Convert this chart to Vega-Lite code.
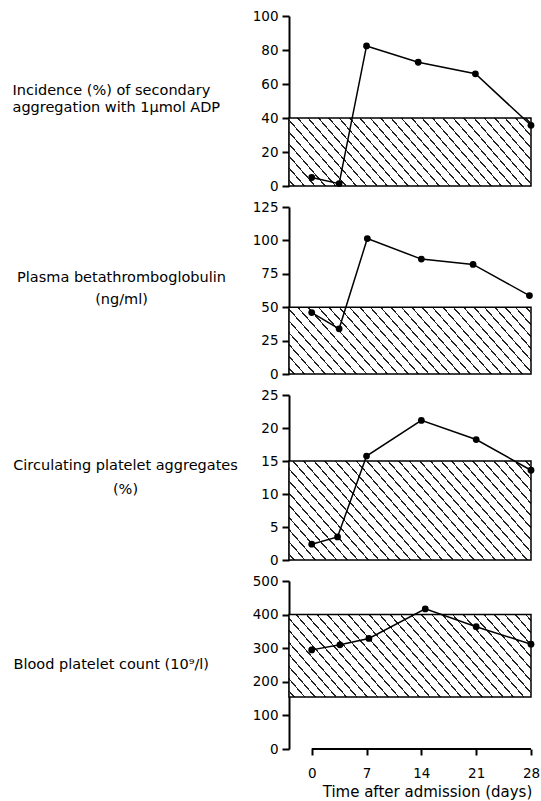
{
  "$schema": "https://vega.github.io/schema/vega-lite/v6.json",
  "background": "white",
  "padding": {"left": 12, "top": 9, "right": 0, "bottom": 2},
  "bounds": "flush",
  "spacing": 21,
  "config": {
    "view": {"stroke": null},
    "font": "DejaVu Sans",
    "axis": {
      "domainColor": "black", "domainWidth": 2, "tickColor": "black", "tickWidth": 2,
      "labelColor": "black", "labelFont": "DejaVu Sans", "labelFontSize": 13.5,
      "titleColor": "black", "titleFont": "DejaVu Sans", "titleFontSize": 14.5, "titleFontWeight": "normal",
      "grid": false, "labelFlush": false, "labelOverlap": false
    }
  },
  "datasets": {
    "incidence": [
      {"day": 0, "value": 5}, {"day": 3.5, "value": 1.4}, {"day": 7, "value": 82.4},
      {"day": 13.6, "value": 72.8}, {"day": 20.9, "value": 66}, {"day": 28, "value": 35.7}
    ],
    "btg": [
      {"day": 0, "value": 46}, {"day": 3.5, "value": 33.8}, {"day": 7.1, "value": 101.4},
      {"day": 14, "value": 86}, {"day": 20.6, "value": 82}, {"day": 27.8, "value": 58.7}
    ],
    "aggregates": [
      {"day": 0, "value": 2.4}, {"day": 3.3, "value": 3.5}, {"day": 7, "value": 15.75},
      {"day": 14, "value": 21.15}, {"day": 21, "value": 18.25}, {"day": 28, "value": 13.6}
    ],
    "count": [
      {"day": 0, "value": 295}, {"day": 3.6, "value": 310}, {"day": 7.3, "value": 329},
      {"day": 14.5, "value": 417}, {"day": 21, "value": 364}, {"day": 28, "value": 312}
    ]
  },
  "vconcat": [
    {
      "width": 242, "height": 170,
      "encoding": {
        "y": {"field": "value", "type": "quantitative", "scale": {"domain": [0, 100]},
          "axis": {"values": [0, 20, 40, 60, 80, 100], "tickSize": 7, "labelPadding": 4,
            "title": ["Incidence (%) of secondary", "aggregation with 1µmol ADP"],
            "titleAngle": 0, "titleAlign": "left", "titleBaseline": "alphabetic",
            "titleX": -277, "titleY": 78, "titleLineHeight": 17}}
      },
      "layer": [
        {
          "data": {"values": [{"value": 0, "hi": 40}]},
          "mark": {"type": "rect", "stroke": "black", "strokeWidth": 1.5,
            "fill": {"gradient": "linear", "x1": 0, "y1": 1, "x2": 1.1735, "y2": 0.7154, "stops": [
{"offset":0.0146,"color":"#fff"},{"offset":0.0146,"color":"#222"},{"offset":0.0199,"color":"#222"},{"offset":0.0199,"color":"#fff"},
{"offset":0.0491,"color":"#fff"},{"offset":0.0491,"color":"#222"},{"offset":0.0543,"color":"#222"},{"offset":0.0543,"color":"#fff"},
{"offset":0.0836,"color":"#fff"},{"offset":0.0836,"color":"#222"},{"offset":0.0888,"color":"#222"},{"offset":0.0888,"color":"#fff"},
{"offset":0.1181,"color":"#fff"},{"offset":0.1181,"color":"#222"},{"offset":0.1233,"color":"#222"},{"offset":0.1233,"color":"#fff"},
{"offset":0.1526,"color":"#fff"},{"offset":0.1526,"color":"#222"},{"offset":0.1578,"color":"#222"},{"offset":0.1578,"color":"#fff"},
{"offset":0.1871,"color":"#fff"},{"offset":0.1871,"color":"#222"},{"offset":0.1923,"color":"#222"},{"offset":0.1923,"color":"#fff"},
{"offset":0.2215,"color":"#fff"},{"offset":0.2215,"color":"#222"},{"offset":0.2267,"color":"#222"},{"offset":0.2267,"color":"#fff"},
{"offset":0.2560,"color":"#fff"},{"offset":0.2560,"color":"#222"},{"offset":0.2612,"color":"#222"},{"offset":0.2612,"color":"#fff"},
{"offset":0.2905,"color":"#fff"},{"offset":0.2905,"color":"#222"},{"offset":0.2957,"color":"#222"},{"offset":0.2957,"color":"#fff"},
{"offset":0.3250,"color":"#fff"},{"offset":0.3250,"color":"#222"},{"offset":0.3302,"color":"#222"},{"offset":0.3302,"color":"#fff"},
{"offset":0.3595,"color":"#fff"},{"offset":0.3595,"color":"#222"},{"offset":0.3647,"color":"#222"},{"offset":0.3647,"color":"#fff"},
{"offset":0.3940,"color":"#fff"},{"offset":0.3940,"color":"#222"},{"offset":0.3992,"color":"#222"},{"offset":0.3992,"color":"#fff"},
{"offset":0.4284,"color":"#fff"},{"offset":0.4284,"color":"#222"},{"offset":0.4336,"color":"#222"},{"offset":0.4336,"color":"#fff"},
{"offset":0.4629,"color":"#fff"},{"offset":0.4629,"color":"#222"},{"offset":0.4681,"color":"#222"},{"offset":0.4681,"color":"#fff"},
{"offset":0.4974,"color":"#fff"},{"offset":0.4974,"color":"#222"},{"offset":0.5026,"color":"#222"},{"offset":0.5026,"color":"#fff"},
{"offset":0.5319,"color":"#fff"},{"offset":0.5319,"color":"#222"},{"offset":0.5371,"color":"#222"},{"offset":0.5371,"color":"#fff"},
{"offset":0.5664,"color":"#fff"},{"offset":0.5664,"color":"#222"},{"offset":0.5716,"color":"#222"},{"offset":0.5716,"color":"#fff"},
{"offset":0.6009,"color":"#fff"},{"offset":0.6009,"color":"#222"},{"offset":0.6061,"color":"#222"},{"offset":0.6061,"color":"#fff"},
{"offset":0.6353,"color":"#fff"},{"offset":0.6353,"color":"#222"},{"offset":0.6405,"color":"#222"},{"offset":0.6405,"color":"#fff"},
{"offset":0.6698,"color":"#fff"},{"offset":0.6698,"color":"#222"},{"offset":0.6750,"color":"#222"},{"offset":0.6750,"color":"#fff"},
{"offset":0.7043,"color":"#fff"},{"offset":0.7043,"color":"#222"},{"offset":0.7095,"color":"#222"},{"offset":0.7095,"color":"#fff"},
{"offset":0.7388,"color":"#fff"},{"offset":0.7388,"color":"#222"},{"offset":0.7440,"color":"#222"},{"offset":0.7440,"color":"#fff"},
{"offset":0.7733,"color":"#fff"},{"offset":0.7733,"color":"#222"},{"offset":0.7785,"color":"#222"},{"offset":0.7785,"color":"#fff"},
{"offset":0.8078,"color":"#fff"},{"offset":0.8078,"color":"#222"},{"offset":0.8130,"color":"#222"},{"offset":0.8130,"color":"#fff"},
{"offset":0.8422,"color":"#fff"},{"offset":0.8422,"color":"#222"},{"offset":0.8474,"color":"#222"},{"offset":0.8474,"color":"#fff"},
{"offset":0.8767,"color":"#fff"},{"offset":0.8767,"color":"#222"},{"offset":0.8819,"color":"#222"},{"offset":0.8819,"color":"#fff"},
{"offset":0.9112,"color":"#fff"},{"offset":0.9112,"color":"#222"},{"offset":0.9164,"color":"#222"},{"offset":0.9164,"color":"#fff"},
{"offset":0.9457,"color":"#fff"},{"offset":0.9457,"color":"#222"},{"offset":0.9509,"color":"#222"},{"offset":0.9509,"color":"#fff"},
{"offset":0.9802,"color":"#fff"},{"offset":0.9802,"color":"#222"},{"offset":0.9854,"color":"#222"},{"offset":0.9854,"color":"#fff"}
            ]}},
          "encoding": {
            "x": {"datum": -2.9, "type": "quantitative", "scale": {"domain": [-2.9, 28]}, "axis": null},
            "x2": {"datum": 28},
            "y2": {"field": "hi"}
          }
        },
        {"data": {"name": "incidence"}, "mark": {"type": "line", "color": "black", "strokeWidth": 1.5},
          "encoding": {"x": {"field": "day", "type": "quantitative", "scale": {"domain": [-2.9, 28]}, "axis": null}}},
        {"data": {"name": "incidence"}, "mark": {"type": "point", "filled": true, "color": "black", "size": 46, "opacity": 1},
          "encoding": {"x": {"field": "day", "type": "quantitative", "scale": {"domain": [-2.9, 28]}, "axis": null}}}
      ]
    },
    {
      "width": 242, "height": 167,
      "encoding": {
        "y": {"field": "value", "type": "quantitative", "scale": {"domain": [0, 125]},
          "axis": {"values": [0, 25, 50, 75, 100, 125], "tickSize": 7, "labelPadding": 4,
            "title": ["Plasma betathromboglobulin", "(ng/ml)"],
            "titleAngle": 0, "titleAlign": "center", "titleBaseline": "alphabetic",
            "titleX": -168, "titleY": 74, "titleLineHeight": 22}}
      },
      "layer": [
        {
          "data": {"values": [{"value": 0, "hi": 50}]},
          "mark": {"type": "rect", "stroke": "black", "strokeWidth": 1.5,
            "fill": {"gradient": "linear", "x1": 0, "y1": 1, "x2": 1.1735, "y2": 0.7154, "stops": [
{"offset":0.0146,"color":"#fff"},{"offset":0.0146,"color":"#222"},{"offset":0.0199,"color":"#222"},{"offset":0.0199,"color":"#fff"},
{"offset":0.0491,"color":"#fff"},{"offset":0.0491,"color":"#222"},{"offset":0.0543,"color":"#222"},{"offset":0.0543,"color":"#fff"},
{"offset":0.0836,"color":"#fff"},{"offset":0.0836,"color":"#222"},{"offset":0.0888,"color":"#222"},{"offset":0.0888,"color":"#fff"},
{"offset":0.1181,"color":"#fff"},{"offset":0.1181,"color":"#222"},{"offset":0.1233,"color":"#222"},{"offset":0.1233,"color":"#fff"},
{"offset":0.1526,"color":"#fff"},{"offset":0.1526,"color":"#222"},{"offset":0.1578,"color":"#222"},{"offset":0.1578,"color":"#fff"},
{"offset":0.1871,"color":"#fff"},{"offset":0.1871,"color":"#222"},{"offset":0.1923,"color":"#222"},{"offset":0.1923,"color":"#fff"},
{"offset":0.2215,"color":"#fff"},{"offset":0.2215,"color":"#222"},{"offset":0.2267,"color":"#222"},{"offset":0.2267,"color":"#fff"},
{"offset":0.2560,"color":"#fff"},{"offset":0.2560,"color":"#222"},{"offset":0.2612,"color":"#222"},{"offset":0.2612,"color":"#fff"},
{"offset":0.2905,"color":"#fff"},{"offset":0.2905,"color":"#222"},{"offset":0.2957,"color":"#222"},{"offset":0.2957,"color":"#fff"},
{"offset":0.3250,"color":"#fff"},{"offset":0.3250,"color":"#222"},{"offset":0.3302,"color":"#222"},{"offset":0.3302,"color":"#fff"},
{"offset":0.3595,"color":"#fff"},{"offset":0.3595,"color":"#222"},{"offset":0.3647,"color":"#222"},{"offset":0.3647,"color":"#fff"},
{"offset":0.3940,"color":"#fff"},{"offset":0.3940,"color":"#222"},{"offset":0.3992,"color":"#222"},{"offset":0.3992,"color":"#fff"},
{"offset":0.4284,"color":"#fff"},{"offset":0.4284,"color":"#222"},{"offset":0.4336,"color":"#222"},{"offset":0.4336,"color":"#fff"},
{"offset":0.4629,"color":"#fff"},{"offset":0.4629,"color":"#222"},{"offset":0.4681,"color":"#222"},{"offset":0.4681,"color":"#fff"},
{"offset":0.4974,"color":"#fff"},{"offset":0.4974,"color":"#222"},{"offset":0.5026,"color":"#222"},{"offset":0.5026,"color":"#fff"},
{"offset":0.5319,"color":"#fff"},{"offset":0.5319,"color":"#222"},{"offset":0.5371,"color":"#222"},{"offset":0.5371,"color":"#fff"},
{"offset":0.5664,"color":"#fff"},{"offset":0.5664,"color":"#222"},{"offset":0.5716,"color":"#222"},{"offset":0.5716,"color":"#fff"},
{"offset":0.6009,"color":"#fff"},{"offset":0.6009,"color":"#222"},{"offset":0.6061,"color":"#222"},{"offset":0.6061,"color":"#fff"},
{"offset":0.6353,"color":"#fff"},{"offset":0.6353,"color":"#222"},{"offset":0.6405,"color":"#222"},{"offset":0.6405,"color":"#fff"},
{"offset":0.6698,"color":"#fff"},{"offset":0.6698,"color":"#222"},{"offset":0.6750,"color":"#222"},{"offset":0.6750,"color":"#fff"},
{"offset":0.7043,"color":"#fff"},{"offset":0.7043,"color":"#222"},{"offset":0.7095,"color":"#222"},{"offset":0.7095,"color":"#fff"},
{"offset":0.7388,"color":"#fff"},{"offset":0.7388,"color":"#222"},{"offset":0.7440,"color":"#222"},{"offset":0.7440,"color":"#fff"},
{"offset":0.7733,"color":"#fff"},{"offset":0.7733,"color":"#222"},{"offset":0.7785,"color":"#222"},{"offset":0.7785,"color":"#fff"},
{"offset":0.8078,"color":"#fff"},{"offset":0.8078,"color":"#222"},{"offset":0.8130,"color":"#222"},{"offset":0.8130,"color":"#fff"},
{"offset":0.8422,"color":"#fff"},{"offset":0.8422,"color":"#222"},{"offset":0.8474,"color":"#222"},{"offset":0.8474,"color":"#fff"},
{"offset":0.8767,"color":"#fff"},{"offset":0.8767,"color":"#222"},{"offset":0.8819,"color":"#222"},{"offset":0.8819,"color":"#fff"},
{"offset":0.9112,"color":"#fff"},{"offset":0.9112,"color":"#222"},{"offset":0.9164,"color":"#222"},{"offset":0.9164,"color":"#fff"},
{"offset":0.9457,"color":"#fff"},{"offset":0.9457,"color":"#222"},{"offset":0.9509,"color":"#222"},{"offset":0.9509,"color":"#fff"},
{"offset":0.9802,"color":"#fff"},{"offset":0.9802,"color":"#222"},{"offset":0.9854,"color":"#222"},{"offset":0.9854,"color":"#fff"}
            ]}},
          "encoding": {
            "x": {"datum": -2.9, "type": "quantitative", "scale": {"domain": [-2.9, 28]}, "axis": null},
            "x2": {"datum": 28},
            "y2": {"field": "hi"}
          }
        },
        {"data": {"name": "btg"}, "mark": {"type": "line", "color": "black", "strokeWidth": 1.5},
          "encoding": {"x": {"field": "day", "type": "quantitative", "scale": {"domain": [-2.9, 28]}, "axis": null}}},
        {"data": {"name": "btg"}, "mark": {"type": "point", "filled": true, "color": "black", "size": 46, "opacity": 1},
          "encoding": {"x": {"field": "day", "type": "quantitative", "scale": {"domain": [-2.9, 28]}, "axis": null}}}
      ]
    },
    {
      "width": 242, "height": 165,
      "encoding": {
        "y": {"field": "value", "type": "quantitative", "scale": {"domain": [0, 25]},
          "axis": {"values": [0, 5, 10, 15, 20, 25], "tickSize": 7, "labelPadding": 4,
            "title": ["Circulating platelet aggregates", "(%)"],
            "titleAngle": 0, "titleAlign": "center", "titleBaseline": "alphabetic",
            "titleX": -164, "titleY": 74.5, "titleLineHeight": 24}}
      },
      "layer": [
        {
          "data": {"values": [{"value": 0, "hi": 15}]},
          "mark": {"type": "rect", "stroke": "black", "strokeWidth": 1.5,
            "fill": {"gradient": "linear", "x1": 0, "y1": 1, "x2": 1.2034, "y2": 0.5719, "stops": [
{"offset":0.0137,"color":"#fff"},{"offset":0.0137,"color":"#222"},{"offset":0.0186,"color":"#222"},{"offset":0.0186,"color":"#fff"},
{"offset":0.0459,"color":"#fff"},{"offset":0.0459,"color":"#222"},{"offset":0.0508,"color":"#222"},{"offset":0.0508,"color":"#fff"},
{"offset":0.0782,"color":"#fff"},{"offset":0.0782,"color":"#222"},{"offset":0.0831,"color":"#222"},{"offset":0.0831,"color":"#fff"},
{"offset":0.1105,"color":"#fff"},{"offset":0.1105,"color":"#222"},{"offset":0.1153,"color":"#222"},{"offset":0.1153,"color":"#fff"},
{"offset":0.1427,"color":"#fff"},{"offset":0.1427,"color":"#222"},{"offset":0.1476,"color":"#222"},{"offset":0.1476,"color":"#fff"},
{"offset":0.1750,"color":"#fff"},{"offset":0.1750,"color":"#222"},{"offset":0.1799,"color":"#222"},{"offset":0.1799,"color":"#fff"},
{"offset":0.2072,"color":"#fff"},{"offset":0.2072,"color":"#222"},{"offset":0.2121,"color":"#222"},{"offset":0.2121,"color":"#fff"},
{"offset":0.2395,"color":"#fff"},{"offset":0.2395,"color":"#222"},{"offset":0.2444,"color":"#222"},{"offset":0.2444,"color":"#fff"},
{"offset":0.2718,"color":"#fff"},{"offset":0.2718,"color":"#222"},{"offset":0.2766,"color":"#222"},{"offset":0.2766,"color":"#fff"},
{"offset":0.3040,"color":"#fff"},{"offset":0.3040,"color":"#222"},{"offset":0.3089,"color":"#222"},{"offset":0.3089,"color":"#fff"},
{"offset":0.3363,"color":"#fff"},{"offset":0.3363,"color":"#222"},{"offset":0.3412,"color":"#222"},{"offset":0.3412,"color":"#fff"},
{"offset":0.3685,"color":"#fff"},{"offset":0.3685,"color":"#222"},{"offset":0.3734,"color":"#222"},{"offset":0.3734,"color":"#fff"},
{"offset":0.4008,"color":"#fff"},{"offset":0.4008,"color":"#222"},{"offset":0.4057,"color":"#222"},{"offset":0.4057,"color":"#fff"},
{"offset":0.4331,"color":"#fff"},{"offset":0.4331,"color":"#222"},{"offset":0.4379,"color":"#222"},{"offset":0.4379,"color":"#fff"},
{"offset":0.4653,"color":"#fff"},{"offset":0.4653,"color":"#222"},{"offset":0.4702,"color":"#222"},{"offset":0.4702,"color":"#fff"},
{"offset":0.4976,"color":"#fff"},{"offset":0.4976,"color":"#222"},{"offset":0.5025,"color":"#222"},{"offset":0.5025,"color":"#fff"},
{"offset":0.5298,"color":"#fff"},{"offset":0.5298,"color":"#222"},{"offset":0.5347,"color":"#222"},{"offset":0.5347,"color":"#fff"},
{"offset":0.5621,"color":"#fff"},{"offset":0.5621,"color":"#222"},{"offset":0.5670,"color":"#222"},{"offset":0.5670,"color":"#fff"},
{"offset":0.5944,"color":"#fff"},{"offset":0.5944,"color":"#222"},{"offset":0.5992,"color":"#222"},{"offset":0.5992,"color":"#fff"},
{"offset":0.6266,"color":"#fff"},{"offset":0.6266,"color":"#222"},{"offset":0.6315,"color":"#222"},{"offset":0.6315,"color":"#fff"},
{"offset":0.6589,"color":"#fff"},{"offset":0.6589,"color":"#222"},{"offset":0.6638,"color":"#222"},{"offset":0.6638,"color":"#fff"},
{"offset":0.6911,"color":"#fff"},{"offset":0.6911,"color":"#222"},{"offset":0.6960,"color":"#222"},{"offset":0.6960,"color":"#fff"},
{"offset":0.7234,"color":"#fff"},{"offset":0.7234,"color":"#222"},{"offset":0.7283,"color":"#222"},{"offset":0.7283,"color":"#fff"},
{"offset":0.7557,"color":"#fff"},{"offset":0.7557,"color":"#222"},{"offset":0.7605,"color":"#222"},{"offset":0.7605,"color":"#fff"},
{"offset":0.7879,"color":"#fff"},{"offset":0.7879,"color":"#222"},{"offset":0.7928,"color":"#222"},{"offset":0.7928,"color":"#fff"},
{"offset":0.8202,"color":"#fff"},{"offset":0.8202,"color":"#222"},{"offset":0.8251,"color":"#222"},{"offset":0.8251,"color":"#fff"},
{"offset":0.8524,"color":"#fff"},{"offset":0.8524,"color":"#222"},{"offset":0.8573,"color":"#222"},{"offset":0.8573,"color":"#fff"},
{"offset":0.8847,"color":"#fff"},{"offset":0.8847,"color":"#222"},{"offset":0.8896,"color":"#222"},{"offset":0.8896,"color":"#fff"},
{"offset":0.9170,"color":"#fff"},{"offset":0.9170,"color":"#222"},{"offset":0.9218,"color":"#222"},{"offset":0.9218,"color":"#fff"},
{"offset":0.9492,"color":"#fff"},{"offset":0.9492,"color":"#222"},{"offset":0.9541,"color":"#222"},{"offset":0.9541,"color":"#fff"},
{"offset":0.9814,"color":"#fff"},{"offset":0.9814,"color":"#222"},{"offset":0.9863,"color":"#222"},{"offset":0.9863,"color":"#fff"}
            ]}},
          "encoding": {
            "x": {"datum": -2.9, "type": "quantitative", "scale": {"domain": [-2.9, 28]}, "axis": null},
            "x2": {"datum": 28},
            "y2": {"field": "hi"}
          }
        },
        {"data": {"name": "aggregates"}, "mark": {"type": "line", "color": "black", "strokeWidth": 1.5},
          "encoding": {"x": {"field": "day", "type": "quantitative", "scale": {"domain": [-2.9, 28]}, "axis": null}}},
        {"data": {"name": "aggregates"}, "mark": {"type": "point", "filled": true, "color": "black", "size": 46, "opacity": 1},
          "encoding": {"x": {"field": "day", "type": "quantitative", "scale": {"domain": [-2.9, 28]}, "axis": null}}}
      ]
    },
    {
      "width": 242, "height": 168,
      "encoding": {
        "y": {"field": "value", "type": "quantitative", "scale": {"domain": [0, 500]},
          "axis": {"values": [0, 100, 200, 300, 400, 500], "tickSize": 7, "labelPadding": 4,
            "title": "Blood platelet count (10⁹/l)",
            "titleAngle": 0, "titleAlign": "left", "titleBaseline": "alphabetic",
            "titleX": -276, "titleY": 87}}
      },
      "layer": [
        {
          "data": {"values": [{"value": 155, "hi": 400}]},
          "mark": {"type": "rect", "stroke": "black", "strokeWidth": 1.5,
            "fill": {"gradient": "linear", "x1": 0, "y1": 1, "x2": 1.1911, "y2": 0.6499, "stops": [
{"offset":0.0141,"color":"#fff"},{"offset":0.0141,"color":"#222"},{"offset":0.0192,"color":"#222"},{"offset":0.0192,"color":"#fff"},
{"offset":0.0475,"color":"#fff"},{"offset":0.0475,"color":"#222"},{"offset":0.0525,"color":"#222"},{"offset":0.0525,"color":"#fff"},
{"offset":0.0808,"color":"#fff"},{"offset":0.0808,"color":"#222"},{"offset":0.0859,"color":"#222"},{"offset":0.0859,"color":"#fff"},
{"offset":0.1141,"color":"#fff"},{"offset":0.1141,"color":"#222"},{"offset":0.1192,"color":"#222"},{"offset":0.1192,"color":"#fff"},
{"offset":0.1475,"color":"#fff"},{"offset":0.1475,"color":"#222"},{"offset":0.1525,"color":"#222"},{"offset":0.1525,"color":"#fff"},
{"offset":0.1808,"color":"#fff"},{"offset":0.1808,"color":"#222"},{"offset":0.1859,"color":"#222"},{"offset":0.1859,"color":"#fff"},
{"offset":0.2141,"color":"#fff"},{"offset":0.2141,"color":"#222"},{"offset":0.2192,"color":"#222"},{"offset":0.2192,"color":"#fff"},
{"offset":0.2475,"color":"#fff"},{"offset":0.2475,"color":"#222"},{"offset":0.2525,"color":"#222"},{"offset":0.2525,"color":"#fff"},
{"offset":0.2808,"color":"#fff"},{"offset":0.2808,"color":"#222"},{"offset":0.2859,"color":"#222"},{"offset":0.2859,"color":"#fff"},
{"offset":0.3141,"color":"#fff"},{"offset":0.3141,"color":"#222"},{"offset":0.3192,"color":"#222"},{"offset":0.3192,"color":"#fff"},
{"offset":0.3475,"color":"#fff"},{"offset":0.3475,"color":"#222"},{"offset":0.3525,"color":"#222"},{"offset":0.3525,"color":"#fff"},
{"offset":0.3808,"color":"#fff"},{"offset":0.3808,"color":"#222"},{"offset":0.3859,"color":"#222"},{"offset":0.3859,"color":"#fff"},
{"offset":0.4141,"color":"#fff"},{"offset":0.4141,"color":"#222"},{"offset":0.4192,"color":"#222"},{"offset":0.4192,"color":"#fff"},
{"offset":0.4475,"color":"#fff"},{"offset":0.4475,"color":"#222"},{"offset":0.4525,"color":"#222"},{"offset":0.4525,"color":"#fff"},
{"offset":0.4808,"color":"#fff"},{"offset":0.4808,"color":"#222"},{"offset":0.4859,"color":"#222"},{"offset":0.4859,"color":"#fff"},
{"offset":0.5141,"color":"#fff"},{"offset":0.5141,"color":"#222"},{"offset":0.5192,"color":"#222"},{"offset":0.5192,"color":"#fff"},
{"offset":0.5475,"color":"#fff"},{"offset":0.5475,"color":"#222"},{"offset":0.5525,"color":"#222"},{"offset":0.5525,"color":"#fff"},
{"offset":0.5808,"color":"#fff"},{"offset":0.5808,"color":"#222"},{"offset":0.5859,"color":"#222"},{"offset":0.5859,"color":"#fff"},
{"offset":0.6141,"color":"#fff"},{"offset":0.6141,"color":"#222"},{"offset":0.6192,"color":"#222"},{"offset":0.6192,"color":"#fff"},
{"offset":0.6475,"color":"#fff"},{"offset":0.6475,"color":"#222"},{"offset":0.6525,"color":"#222"},{"offset":0.6525,"color":"#fff"},
{"offset":0.6808,"color":"#fff"},{"offset":0.6808,"color":"#222"},{"offset":0.6859,"color":"#222"},{"offset":0.6859,"color":"#fff"},
{"offset":0.7141,"color":"#fff"},{"offset":0.7141,"color":"#222"},{"offset":0.7192,"color":"#222"},{"offset":0.7192,"color":"#fff"},
{"offset":0.7475,"color":"#fff"},{"offset":0.7475,"color":"#222"},{"offset":0.7525,"color":"#222"},{"offset":0.7525,"color":"#fff"},
{"offset":0.7808,"color":"#fff"},{"offset":0.7808,"color":"#222"},{"offset":0.7859,"color":"#222"},{"offset":0.7859,"color":"#fff"},
{"offset":0.8141,"color":"#fff"},{"offset":0.8141,"color":"#222"},{"offset":0.8192,"color":"#222"},{"offset":0.8192,"color":"#fff"},
{"offset":0.8475,"color":"#fff"},{"offset":0.8475,"color":"#222"},{"offset":0.8525,"color":"#222"},{"offset":0.8525,"color":"#fff"},
{"offset":0.8808,"color":"#fff"},{"offset":0.8808,"color":"#222"},{"offset":0.8859,"color":"#222"},{"offset":0.8859,"color":"#fff"},
{"offset":0.9141,"color":"#fff"},{"offset":0.9141,"color":"#222"},{"offset":0.9192,"color":"#222"},{"offset":0.9192,"color":"#fff"},
{"offset":0.9475,"color":"#fff"},{"offset":0.9475,"color":"#222"},{"offset":0.9525,"color":"#222"},{"offset":0.9525,"color":"#fff"},
{"offset":0.9808,"color":"#fff"},{"offset":0.9808,"color":"#222"},{"offset":0.9859,"color":"#222"},{"offset":0.9859,"color":"#fff"}
            ]}},
          "encoding": {
            "x": {"datum": -2.9, "type": "quantitative", "scale": {"domain": [-2.9, 28]},
              "axis": {"values": [0, 7, 14, 21, 28], "domain": false, "tickSize": 6, "labelPadding": 11,
                "title": "Time after admission (days)", "titleFontSize": 15,
                "titleX": 138, "titleY": 47, "titleAlign": "center", "titleBaseline": "alphabetic"}},
            "x2": {"datum": 28},
            "y2": {"field": "hi"}
          }
        },
        {
          "data": {"values": [{"value": 0}]},
          "mark": {"type": "rule", "color": "black", "strokeWidth": 2},
          "encoding": {
            "x": {"datum": 0, "type": "quantitative", "scale": {"domain": [-2.9, 28]},
              "axis": {"values": [0, 7, 14, 21, 28], "domain": false, "tickSize": 6, "labelPadding": 11,
                "title": "Time after admission (days)", "titleFontSize": 15,
                "titleX": 138, "titleY": 47, "titleAlign": "center", "titleBaseline": "alphabetic"}},
            "x2": {"datum": 28}
          }
        },
        {"data": {"name": "count"}, "mark": {"type": "line", "color": "black", "strokeWidth": 1.5},
          "encoding": {"x": {"field": "day", "type": "quantitative", "scale": {"domain": [-2.9, 28]},
            "axis": {"values": [0, 7, 14, 21, 28], "domain": false, "tickSize": 6, "labelPadding": 11,
              "title": "Time after admission (days)", "titleFontSize": 15,
              "titleX": 138, "titleY": 47, "titleAlign": "center", "titleBaseline": "alphabetic"}}}},
        {"data": {"name": "count"}, "mark": {"type": "point", "filled": true, "color": "black", "size": 46, "opacity": 1},
          "encoding": {"x": {"field": "day", "type": "quantitative", "scale": {"domain": [-2.9, 28]},
            "axis": {"values": [0, 7, 14, 21, 28], "domain": false, "tickSize": 6, "labelPadding": 11,
              "title": "Time after admission (days)", "titleFontSize": 15,
              "titleX": 138, "titleY": 47, "titleAlign": "center", "titleBaseline": "alphabetic"}}}}
      ]
    }
  ]
}
